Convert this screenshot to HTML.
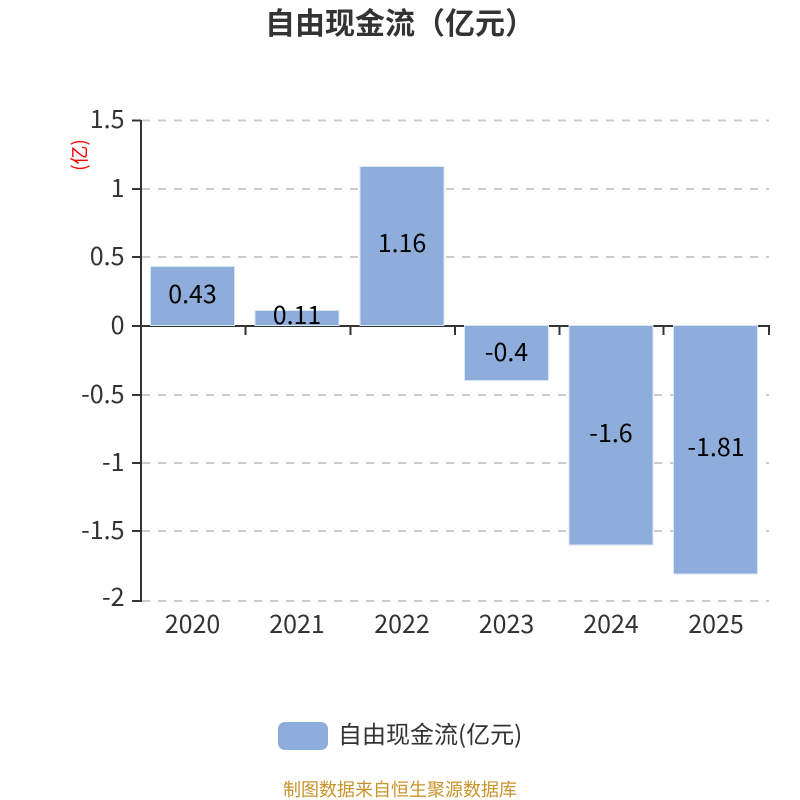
<!DOCTYPE html>
<html><head><meta charset="utf-8"><style>
html,body{margin:0;padding:0;background:#fff;width:800px;height:800px;overflow:hidden}
text{font-family:"Noto Sans CJK SC",sans-serif}
.n{font-size:25px}
</style></head><body>
<svg width="800" height="800" viewBox="0 0 800 800" xmlns="http://www.w3.org/2000/svg" style="display:block">
<rect width="800" height="800" fill="#fff"/>
<text x="265" y="34" font-size="30" font-weight="bold" fill="#333">自由现金流（亿元）</text>
<g stroke="#ccc" stroke-width="2" stroke-dasharray="8 8" fill="none">
<path d="M142 120.5H769M142 189H769M142 257H769M142 395H769M142 463H769M142 531H769M142 601H769"/>
</g>
<g stroke="#333" stroke-width="2" fill="none">
<path d="M141 120V602"/>
<path d="M132 120.5H141M132 189H141M132 257H141M132 326H141M132 395H141M132 463H141M132 531H141M132 601H141"/>
<path d="M141 326H770"/>
<path d="M245.5 326V335M350.5 326V335M455 326V335M559.5 326V335M663.5 326V335M769 326V335"/>
</g>
<g fill="#8eadda" stroke="#dbe6f5" stroke-width="1">
<rect x="150.5" y="266.5" width="84" height="59"/>
<rect x="255" y="310.5" width="84" height="15"/>
<rect x="360" y="166.5" width="84" height="159"/>
<rect x="464.5" y="325.5" width="84" height="55"/>
<rect x="569" y="325.5" width="84" height="219.5"/>
<rect x="673.5" y="325.5" width="84" height="248.5"/>
</g>
<g fill="#333" text-anchor="end">
<text class="n" x="124.5" y="128">1.5</text>
<text class="n" x="124.5" y="197">1</text>
<text class="n" x="124.5" y="265">0.5</text>
<text class="n" x="124.5" y="334">0</text>
<text class="n" x="124.5" y="403">-0.5</text>
<text class="n" x="124.5" y="471">-1</text>
<text class="n" x="124.5" y="539">-1.5</text>
<text class="n" x="124.5" y="606">-2</text>
</g>
<g fill="#333" text-anchor="middle">
<text class="n" x="192.5" y="633">2020</text>
<text class="n" x="297" y="633">2021</text>
<text class="n" x="402" y="633">2022</text>
<text class="n" x="506.5" y="633">2023</text>
<text class="n" x="611" y="633">2024</text>
<text class="n" x="716" y="633">2025</text>
</g>
<g fill="#000" text-anchor="middle">
<text class="n" x="192.5" y="303">0.43</text>
<text class="n" x="297" y="324">0.11</text>
<text class="n" x="402" y="252">1.16</text>
<text class="n" x="506.5" y="361">-0.4</text>
<text class="n" x="611" y="442">-1.6</text>
<text class="n" x="716" y="456">-1.81</text>
</g>
<text transform="translate(86 155) rotate(-90)" text-anchor="middle" font-size="19" fill="#f00">(亿)</text>
<rect x="278" y="722" width="50" height="28" rx="7" fill="#8eadda"/>
<text x="338" y="743" font-size="24" fill="#333">自由现金流(亿元)</text>
<text x="400" y="796" text-anchor="middle" font-size="18" fill="#c8932a">制图数据来自恒生聚源数据库</text>
</svg>
</body></html>
